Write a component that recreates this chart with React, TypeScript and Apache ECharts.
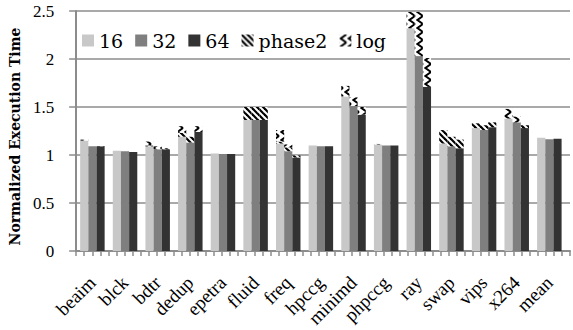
import React, { useEffect, useRef } from "react";
import * as echarts from "echarts";

const categories = ["beaim", "blck", "bdtr", "dedup", "epetra", "fluid", "freq", "hpccg", "minimd", "phpccg", "ray", "swap", "vips", "x264", "mean"];

const base16 = [1.15, 1.045, 1.09, 1.19, 1.015, 1.365, 1.12, 1.10, 1.61, 1.11, 2.32, 1.12, 1.28, 1.38, 1.18];
const phase2_16 = [0, 0, 0.01, 0.04, 0, 0.135, 0.02, 0, 0, 0.005, 0, 0.14, 0.05, 0, 0];
const log16 = [0.01, 0, 0.04, 0.07, 0, 0, 0.12, 0, 0.11, 0, 0.17, 0, 0, 0.10, 0];

const base32 = [1.09, 1.04, 1.06, 1.13, 1.01, 1.365, 1.04, 1.09, 1.51, 1.10, 2.03, 1.09, 1.26, 1.34, 1.165];
const phase2_32 = [0, 0, 0, 0.06, 0, 0.135, 0.04, 0, 0, 0, 0, 0.10, 0.05, 0, 0];
const log32 = [0, 0, 0.03, 0, 0, 0, 0.03, 0, 0.09, 0, 0.46, 0, 0, 0.06, 0];

const base64 = [1.09, 1.03, 1.06, 1.24, 1.01, 1.365, 0.975, 1.09, 1.42, 1.10, 1.71, 1.07, 1.29, 1.28, 1.17];
const phase2_64 = [0.005, 0, 0.01, 0, 0, 0.135, 0.02, 0, 0, 0, 0, 0.09, 0.05, 0.03, 0];
const log64 = [0, 0, 0, 0.06, 0, 0, 0, 0, 0.08, 0, 0.30, 0, 0, 0, 0];

const yTicks = [0, 0.5, 1, 1.5, 2, 2.5];
const legendNames = ["16", "32", "64", "phase2", "log"];
const slotCount = 61;

function stripePattern(): HTMLCanvasElement {
  const c = document.createElement("canvas");
  c.width = 6;
  c.height = 6;
  const g = c.getContext("2d")!;
  g.fillStyle = "#fff";
  g.fillRect(0, 0, 6, 6);
  g.strokeStyle = "#000";
  g.lineWidth = 2.2;
  for (const k of [-6, 0, 6]) {
    g.beginPath();
    g.moveTo(k - 1, -1);
    g.lineTo(k + 7, 7);
    g.stroke();
  }
  return c;
}

function zigPattern(): HTMLCanvasElement {
  const c = document.createElement("canvas");
  c.width = 8;
  c.height = 8;
  const g = c.getContext("2d")!;
  g.fillStyle = "#fff";
  g.fillRect(0, 0, 8, 8);
  g.strokeStyle = "#000";
  g.lineWidth = 2;
  g.beginPath();
  g.moveTo(7, 0);
  g.lineTo(1.5, 4);
  g.lineTo(7, 8);
  g.stroke();
  return c;
}

export default function App() {
  const ref = useRef<HTMLDivElement>(null);
  useEffect(() => {
    const chart = echarts.init(ref.current!, null, { renderer: "svg" });
    const stripe = { image: stripePattern(), repeat: "repeat" } as any;
    const zig = { image: zigPattern(), repeat: "repeat" } as any;
    const colors: Record<string, any> = { "16": "#c8c8c8", "32": "#7f7f7f", "64": "#333333" };
    const groups: [string, number[], number[], number[]][] = [
      ["16", base16, phase2_16, log16],
      ["32", base32, phase2_32, log32],
      ["64", base64, phase2_64, log64],
    ];
    const series: any[] = [
      {
        type: "bar", name: "_gap", stack: "gap", xAxisIndex: 1, yAxisIndex: 1,
        data: categories.map(() => 0), barGap: "0%", barCategoryGap: "0%",
        itemStyle: { color: "rgba(0,0,0,0)" }, silent: true,
      },
    ];
    for (const [name, b, p, l] of groups) {
      series.push({ type: "bar", name, stack: "s" + name, xAxisIndex: 1, yAxisIndex: 1, data: b, barGap: "0%", barCategoryGap: "0%", itemStyle: { color: colors[name] } });
      series.push({ type: "bar", name: "phase2", stack: "s" + name, xAxisIndex: 1, yAxisIndex: 1, data: p, barGap: "0%", barCategoryGap: "0%", itemStyle: { color: stripe } });
      series.push({ type: "bar", name: "log", stack: "s" + name, xAxisIndex: 1, yAxisIndex: 1, data: l, barGap: "0%", barCategoryGap: "0%", itemStyle: { color: zig } });
    }
    const axisGray = "#8c8c8c";
    chart.setOption({
      animation: false,
      backgroundColor: "#fff",
      grid: [
        { left: 72, right: 3, top: 11, bottom: 79 },
        { left: 72, right: 11.4, top: 11, bottom: 79 },
        { left: 76, right: 7.4, top: 11, bottom: 79 },
      ],
      legend: {
        data: legendNames,
        left: 77,
        top: 26,
        itemWidth: 12,
        itemHeight: 12,
        itemGap: 12,
        icon: "rect",
        textStyle: { fontFamily: "DejaVu Serif", fontSize: 19, color: "#000" },
      },
      xAxis: [
        {
          gridIndex: 0, type: "category", data: Array.from({ length: slotCount }, (_, i) => "s" + i),
          axisLine: { show: true, lineStyle: { color: axisGray, width: 2 } },
          axisTick: { show: true, length: 5, interval: 0, lineStyle: { color: axisGray, width: 1.5 } },
          axisLabel: { show: false },
        },
        {
          gridIndex: 1, type: "category", data: categories,
          axisLine: { show: false }, axisTick: { show: false }, axisLabel: { show: false },
        },
        {
          gridIndex: 2, type: "category", data: categories,
          axisLine: { show: false }, axisTick: { show: false },
          axisLabel: { rotate: 45, interval: 0, margin: 35, fontFamily: "Liberation Serif", fontSize: 19, color: "#000" },
        },
      ],
      yAxis: [
        {
          gridIndex: 0, type: "value", min: yTicks[0], max: yTicks[yTicks.length - 1], interval: 0.5,
          name: "Normalized Execution Time", nameLocation: "middle", nameGap: 44,
          nameTextStyle: { fontFamily: "DejaVu Serif", fontWeight: "bold", fontSize: 14, color: "#000", padding: [0, 11, 0, 0] },
          axisLine: { show: true, lineStyle: { color: axisGray, width: 2 } },
          axisTick: { show: true, length: 7, lineStyle: { color: axisGray, width: 1.5 } },
          splitLine: { show: true, lineStyle: { color: axisGray, width: 1.5 } },
          axisLabel: { margin: 22, fontFamily: "Liberation Serif", fontSize: 17, color: "#000" },
        },
        { gridIndex: 1, type: "value", min: 0, max: 2.5, interval: 0.5, show: false },
        { gridIndex: 2, type: "value", min: 0, max: 2.5, interval: 0.5, show: false },
      ],
      series,
    });
    return () => chart.dispose();
  }, []);
  return <div ref={ref} style={{ position: "fixed", left: 0, top: 0, width: 573, height: 330, background: "#fff" }} />;
}
